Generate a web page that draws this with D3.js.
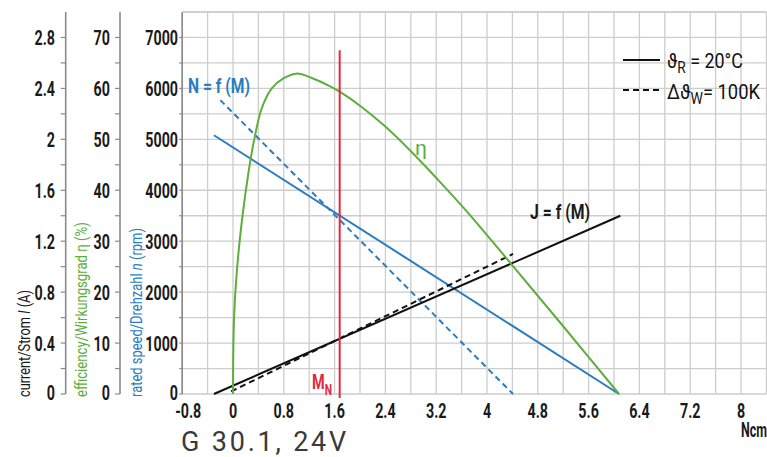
<!DOCTYPE html>
<html>
<head>
<meta charset="utf-8">
<script src="https://cdn.jsdelivr.net/npm/d3@7"></script>
<style>
  body { margin: 0; background: #fff; }
  svg { display: block; }
  text { font-family: Roboto, 'DejaVu Sans', sans-serif; }
</style>
</head>
<body>
<svg id="chart" width="767" height="457"></svg>
<script>
// torque axis (Ncm)
var xTickLabels = [-0.8, 0, 0.8, 1.6, 2.4, 3.2, 4, 4.8, 5.6, 6.4, 7.2, 8];
var speedTicks = [0, 1000, 2000, 3000, 4000, 5000, 6000, 7000];
var currentTicks = [0, 0.4, 0.8, 1.2, 1.6, 2, 2.4, 2.8];
var effTicks = [0, 10, 20, 30, 40, 50, 60, 70];

// N = f(M), rpm
var speedCold = [{m: -0.3, v: 5080}, {m: 6.08, v: 0}];
var speedHot = [{m: -0.2, v: 5770}, {m: 4.41, v: 0}];
// J = f(M), A
var currentCold = [{m: -0.3, v: 0}, {m: 6.1, v: 1.4}];
var currentHot = [{m: -0.03, v: 0.02}, {m: 4.41, v: 1.1}];
// efficiency, %
var effM = [0, 0.015, 0.06, 0.14, 0.25, 0.335, 0.45, 0.61, 0.8, 1.0, 1.25, 1.53, 1.685, 2.0, 2.39, 2.79, 3.21, 3.65, 4.39, 5.2, 6.08];
var effV = [0, 14.5, 24, 34, 44, 50, 56, 60, 62.0, 62.9, 62.0, 60.4, 59.3, 56.6, 52.6, 47.8, 42.3, 36.3, 25.4, 13.3, 0];
var ratedTorque = 1.68;

var blue = "#2a7dc0", green = "#5cae3d", red = "#e3283c", gridC = "#cdcdcd", axisC = "#8a8a8a", ink = "#1a1a1a";
var SX = 0.68; // condensed look of the tick font

var svg = d3.select("#chart");
var x = d3.scaleLinear().domain([-0.8, 8.4]).range([182.2, 766.4]);
var ySpeed = d3.scaleLinear().domain([0, 7500]).range([394, 12]);
var yCur = d3.scaleLinear().domain([0, 3]).range([394, 12]);
var yEff = d3.scaleLinear().domain([0, 75]).range([394, 12]);

// squeeze a text horizontally so it spans the given width
function fit(t, px, py, width, rot) {
  var w = t.node().getComputedTextLength();
  t.attr("transform", "translate(" + px + "," + py + ")" + (rot ? " rotate(" + rot + ")" : "") +
    " scale(" + (width / w) + ",1)");
  return t;
}

// grid
var grid = svg.append("g");
grid.selectAll("line.v").data(d3.range(0, 24)).enter().append("line")
  .attr("x1", function(i) { return x(-0.8 + i * 0.4); })
  .attr("x2", function(i) { return x(-0.8 + i * 0.4); })
  .attr("y1", ySpeed(7500)).attr("y2", ySpeed(0))
  .attr("stroke", gridC).attr("stroke-width", 1.3);
grid.selectAll("line.h").data(d3.range(0, 16)).enter().append("line")
  .attr("x1", x(-0.8)).attr("x2", x(8.4))
  .attr("y1", function(i) { return ySpeed(i * 500); })
  .attr("y2", function(i) { return ySpeed(i * 500); })
  .attr("stroke", gridC).attr("stroke-width", 1.3);

// the three left axes
function leftAxis(scale, ticks, xpos, labelRight, tickLen) {
  var g = svg.append("g");
  g.append("line").attr("x1", xpos).attr("x2", xpos)
    .attr("y1", 12).attr("y2", 394).attr("stroke", axisC).attr("stroke-width", 1.6);
  var step = ticks[1] - ticks[0];
  var all = d3.range(0, ticks.length * 2 - 1).map(function(i) { return i * step / 2; });
  g.selectAll("line.t").data(all).enter().append("line")
    .attr("x1", xpos - tickLen).attr("x2", xpos)
    .attr("y1", function(d) { return scale(d); }).attr("y2", function(d) { return scale(d); })
    .attr("stroke", axisC).attr("stroke-width", 1.2);
  g.selectAll("text").data(ticks).enter().append("text")
    .attr("transform", function(d) { return "translate(" + labelRight + "," + (scale(d) + (d ? 8 : 6)) + ") scale(" + SX + ",1)"; })
    .attr("text-anchor", "end").attr("font-size", 21).attr("font-weight", "bold")
    .attr("fill", ink).text(function(d) { return d; });
}
leftAxis(yCur, currentTicks, 65.7, 55, 5);
leftAxis(yEff, effTicks, 120, 110, 5);
leftAxis(ySpeed, speedTicks, 182.2, 178, 3);

// top border
svg.append("line").attr("x1", x(-0.8)).attr("x2", x(8.4)).attr("y1", 12).attr("y2", 12)
  .attr("stroke", gridC).attr("stroke-width", 1.3);

// x tick labels (first one is pushed right, clear of the axis)
svg.append("g").selectAll("text").data(xTickLabels).enter().append("text")
  .attr("transform", function(d, i) { return "translate(" + (x(d) + (i ? 0 : 6)) + ",418) scale(" + SX + ",1)"; })
  .attr("text-anchor", "middle").attr("font-size", 21).attr("font-weight", "bold")
  .attr("fill", ink).text(function(d) { return d; });
fit(svg.append("text").attr("font-size", 20).attr("font-weight", "bold").attr("fill", ink).text("Ncm"),
  741, 437, 26);

// axis titles
function vTitle(xb, len, color, parts) {
  var t = svg.append("text").attr("font-size", 16).attr("fill", color);
  parts.forEach(function(p) {
    t.append("tspan").attr("font-style", p[1] ? "italic" : "normal").text(p[0]);
  });
  fit(t, xb, 397, len, -90);
}
vTitle(30, 107, ink, [["current/Strom ", 0], ["I", 1], [" (A)", 0]]);
vTitle(87, 175, green, [["efficiency/Wirkungsgrad η (%)", 0]]);
vTitle(142, 169, blue, [["rated speed/Drehzahl ", 0], ["n", 1], [" (rpm)", 0]]);

// curves
function straight(data, scale, color, dashed) {
  svg.append("path").datum(data)
    .attr("d", d3.line().x(function(d) { return x(d.m); }).y(function(d) { return scale(d.v); }))
    .attr("fill", "none").attr("stroke", color).attr("stroke-width", 2)
    .attr("stroke-dasharray", dashed ? "6,4" : null);
}
straight(speedCold, ySpeed, blue, false);
straight(speedHot, ySpeed, blue, true);
straight(currentCold, yCur, "#111", false);
straight(currentHot, yCur, "#111", true);

var effData = effM.map(function(m, i) { return {m: m, v: effV[i]}; });
svg.append("path").datum(effData)
  .attr("d", d3.line().curve(d3.curveCatmullRom.alpha(0.5))
    .x(function(d) { return x(d.m); }).y(function(d) { return yEff(d.v); }))
  .attr("fill", "none").attr("stroke", green).attr("stroke-width", 2);

// rated torque
svg.append("line").attr("x1", x(ratedTorque)).attr("x2", x(ratedTorque))
  .attr("y1", ySpeed(6750)).attr("y2", ySpeed(0) + 4)
  .attr("stroke", red).attr("stroke-width", 2);
var mn = svg.append("text").attr("font-size", 21).attr("font-weight", "bold").attr("fill", red);
mn.append("tspan").text("M");
mn.append("tspan").attr("font-size", 15).attr("dy", 6).text("N");
fit(mn, 312, 389, 20);

// curve labels
fit(svg.append("text").attr("font-size", 20).attr("font-weight", "bold").attr("fill", blue).text("N = f (M)"),
  188, 93, 62);
fit(svg.append("text").attr("font-size", 20).attr("fill", green).text("η"), 415, 155, 12);
fit(svg.append("text").attr("font-size", 20).attr("font-weight", "bold").attr("fill", ink).text("J = f (M)"),
  530, 219, 60);

// legend
svg.append("line").attr("x1", 623).attr("x2", 660).attr("y1", 60).attr("y2", 60)
  .attr("stroke", "#111").attr("stroke-width", 2);
svg.append("line").attr("x1", 623).attr("x2", 660).attr("y1", 90).attr("y2", 90)
  .attr("stroke", "#111").attr("stroke-width", 2).attr("stroke-dasharray", "6,4");
var l1 = svg.append("text").attr("font-size", 21).attr("fill", "#111");
l1.append("tspan").text("ϑ");
l1.append("tspan").attr("font-size", 16).attr("dy", 5).text("R");
l1.append("tspan").attr("dy", -5).text(" = 20°C");
fit(l1, 667, 68, 76);
var l2 = svg.append("text").attr("font-size", 21).attr("fill", "#111");
l2.append("tspan").text("Δϑ");
l2.append("tspan").attr("font-size", 16).attr("dy", 5).text("W");
l2.append("tspan").attr("dy", -5).text("= 100K");
fit(l2, 667, 99, 93);

// model name
svg.append("text").attr("x", 181).attr("y", 451).attr("font-size", 27)
  .attr("font-family", "'Liberation Sans', Arial, sans-serif").attr("letter-spacing", 2.8)
  .attr("fill", "#3a3a3a").text("G 30.1, 24V");
</script>
</body>
</html>
